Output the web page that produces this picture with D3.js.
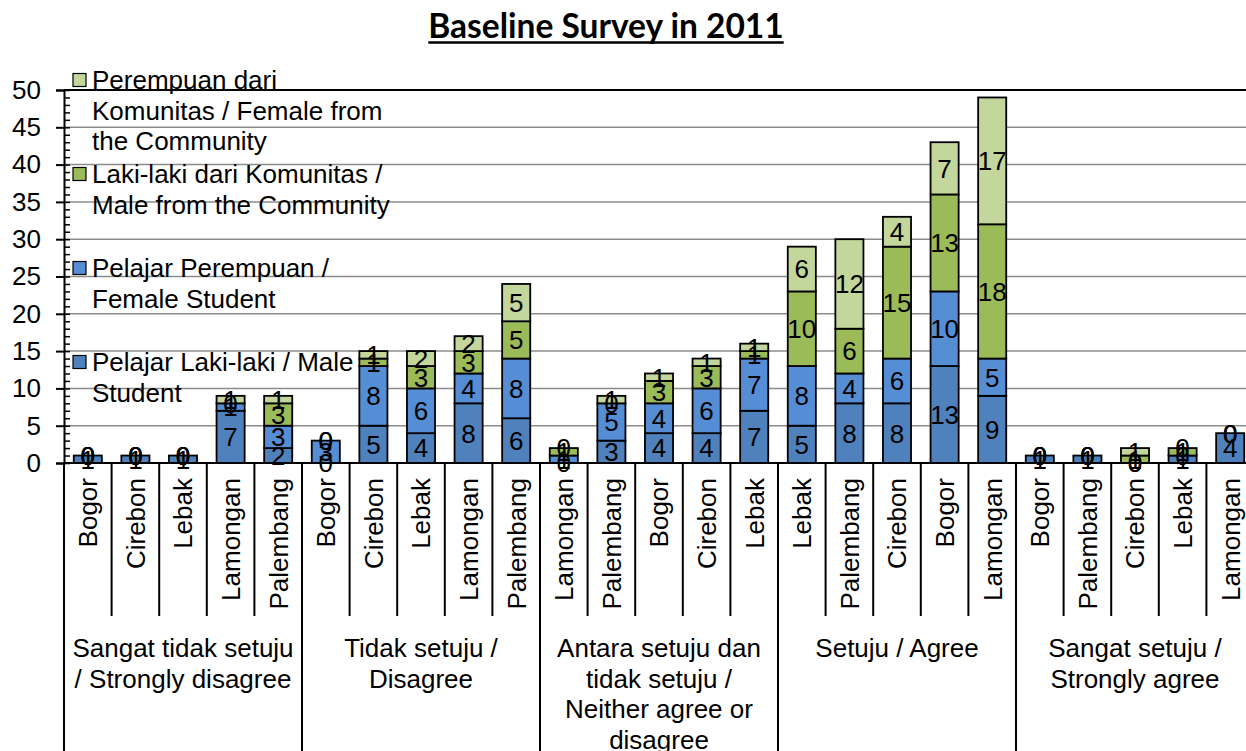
<!DOCTYPE html>
<meta charset="utf-8">
<html>
<head>
<script src="https://d3js.org/d3.v7.min.js"></script>
<style>
  body { margin: 0; background: #fff; }
  text { font-family: "Liberation Sans", Arial, sans-serif; fill: #000; }
</style>
</head>
<body>
<div id="chart"></div>
<script>
// city order along the x axis, five per answer group
const cities = [
  "Bogor", "Cirebon", "Lebak", "Lamongan", "Palembang",
  "Bogor", "Cirebon", "Lebak", "Lamongan", "Palembang",
  "Lamongan", "Palembang", "Bogor", "Cirebon", "Lebak",
  "Lebak", "Palembang", "Cirebon", "Bogor", "Lamongan",
  "Bogor", "Palembang", "Cirebon", "Lebak", "Lamongan"
];
const groupLabels = [
  ["Sangat tidak setuju", "/ Strongly disagree"],
  ["Tidak setuju /", "Disagree"],
  ["Antara setuju dan", "tidak setuju /", "Neither agree or", "disagree"],
  ["Setuju / Agree"],
  ["Sangat setuju /", "Strongly agree"]
];
const maleStudent     = [1, 1, 1, 7, 2,  0, 5, 4, 8, 6,  0, 3, 4, 4, 7,  5, 8, 8, 13, 9,  1, 1, 0, 1, 4];
const femaleStudent   = [0, 0, 0, 1, 3,  3, 8, 6, 4, 8,  1, 5, 4, 6, 7,  8, 4, 6, 10, 5,  0, 0, 0, 0, 0];
const maleCommunity   = [0, 0, 0, 0, 3,  0, 1, 3, 3, 5,  1, 0, 3, 3, 1,  10, 6, 15, 13, 18,  0, 0, 1, 1, 0];
const femaleCommunity = [0, 0, 0, 1, 1,  0, 1, 2, 2, 5,  0, 1, 1, 1, 1,  6, 12, 4, 7, 17,  0, 0, 1, 0, 0];

const seriesKeys = ["maleStudent", "femaleStudent", "maleCommunity", "femaleCommunity"];
const seriesColors = ["#4f81bd", "#558ed5", "#9bbb59", "#c3d69b"];
const legendLines = {
  femaleCommunity: ["Perempuan dari", "Komunitas / Female from", "the Community"],
  maleCommunity: ["Laki-laki dari Komunitas /", "Male from the Community"],
  femaleStudent: ["Pelajar Perempuan /", "Female Student"],
  maleStudent: ["Pelajar Laki-laki / Male", "Student"]
};
const yTicks = [0, 5, 10, 15, 20, 25, 30, 35, 40, 45, 50];

const W = 1246, H = 751;
const plotL = 64, plotR = 1254, plotT = 90, plotB = 463;
const fs = 26;

const rows = cities.map((c, i) => ({
  i: i,
  maleStudent: maleStudent[i],
  femaleStudent: femaleStudent[i],
  maleCommunity: maleCommunity[i],
  femaleCommunity: femaleCommunity[i]
}));

const svg = d3.select("#chart").append("svg")
  .attr("width", W).attr("height", H);

const x = d3.scaleBand()
  .domain(d3.range(cities.length))
  .range([plotL, plotR])
  .paddingInner(0.41)
  .paddingOuter(0.205);
const y = d3.scaleLinear().domain([0, 50]).range([plotB, plotT]);
const color = d3.scaleOrdinal().domain(seriesKeys).range(seriesColors);

// title
const title = svg.append("text")
  .attr("x", 606).attr("y", 38)
  .attr("text-anchor", "middle")
  .style("font-family", "Lato, 'Open Sans', sans-serif")
  .style("font-weight", "bold")
  .style("font-size", "33.5px")
  .text("Baseline Survey in 2011");
const tb = title.node().getBBox();
svg.append("line")
  .attr("x1", tb.x).attr("x2", tb.x + tb.width)
  .attr("y1", 42.5).attr("y2", 42.5)
  .attr("stroke", "#000").attr("stroke-width", 2.5);

// gridlines
svg.append("g")
  .selectAll("line")
  .data(yTicks.filter(t => t > 0 && t < 50))
  .join("line")
    .attr("x1", plotL).attr("x2", plotR)
    .attr("y1", d => y(d)).attr("y2", d => y(d))
    .attr("stroke", "#8c8c8c").attr("stroke-width", 1.5);
svg.append("line")
  .attr("x1", plotL).attr("x2", plotR)
  .attr("y1", y(50)).attr("y2", y(50))
  .attr("stroke", "#000").attr("stroke-width", 2);

// y axis, major ticks outside, minor inside
const yAxis = svg.append("g")
  .attr("transform", `translate(${plotL},0)`)
  .call(d3.axisLeft(y).tickValues(yTicks).tickSize(8).tickPadding(15));
yAxis.selectAll("text").style("font-size", fs + "px").style("font-family", "Liberation Sans, Arial, sans-serif");
yAxis.selectAll("line, path").attr("stroke", "#000").attr("stroke-width", 2);
const yMinor = svg.append("g")
  .attr("transform", `translate(${plotL},0)`)
  .call(d3.axisRight(y).tickValues(d3.range(0, 51, 1)).tickSize(6).tickFormat(""));
yMinor.select(".domain").remove();
yMinor.selectAll("line").attr("stroke", "#000").attr("stroke-width", 1.5);

// stacked bars
const stacked = d3.stack().keys(seriesKeys)(rows);
const layer = svg.append("g")
  .selectAll("g")
  .data(stacked)
  .join("g")
    .attr("fill", d => color(d.key));
layer.selectAll("rect")
  .data(d => d)
  .join("rect")
    .attr("x", d => x(d.data.i))
    .attr("y", d => y(d[1]))
    .attr("width", x.bandwidth())
    .attr("height", d => y(d[0]) - y(d[1]))
    .attr("stroke", "#000")
    .attr("stroke-width", 1.8);

// data labels, zeros included
const labelG = svg.append("g");
stacked.forEach(s => {
  labelG.selectAll(null)
    .data(s)
    .join("text")
      .attr("x", d => x(d.data.i) + x.bandwidth() / 2)
      .attr("y", d => y((d[0] + d[1]) / 2))
      .attr("dy", "0.36em")
      .attr("text-anchor", "middle")
      .style("font-size", fs + "px")
      .text(d => d.data[s.key]);
});

// x axis line and category dividers
svg.append("line")
  .attr("x1", plotL).attr("x2", plotR)
  .attr("y1", plotB).attr("y2", plotB)
  .attr("stroke", "#000").attr("stroke-width", 2);
svg.append("g")
  .selectAll("line")
  .data(d3.range(cities.length + 1))
  .join("line")
    .attr("x1", i => plotL + i * x.step())
    .attr("x2", i => plotL + i * x.step())
    .attr("y1", plotB)
    .attr("y2", i => i % 5 === 0 ? H : 616)
    .attr("stroke", "#000").attr("stroke-width", 2);

// city labels, rotated
svg.append("g")
  .selectAll("text")
  .data(cities)
  .join("text")
    .attr("transform", (d, i) => `translate(${x(i) + x.bandwidth() / 2},478) rotate(-90)`)
    .attr("dy", "0.36em")
    .attr("text-anchor", "end")
    .style("font-size", fs + "px")
    .text(d => d);

// group labels
groupLabels.forEach((lines, g) => {
  const cx = plotL + (g * 5 + 2.5) * x.step();
  svg.append("g").selectAll("text")
    .data(lines)
    .join("text")
      .attr("x", cx)
      .attr("y", (d, k) => 648 + k * 30.5)
      .attr("dy", "0.36em")
      .attr("text-anchor", "middle")
      .style("font-size", fs + "px")
      .text(d => d);
});

// legend, top entry first
const legendOrder = seriesKeys.slice().reverse();
const legend = svg.append("g")
  .selectAll("g")
  .data(legendOrder)
  .join("g")
    .attr("transform", (d, i) => `translate(73,${80 + i * 94})`);
legend.append("rect")
  .attr("x", 0).attr("y", -6.5)
  .attr("width", 13).attr("height", 13)
  .attr("fill", d => color(d))
  .attr("stroke", "#000").attr("stroke-width", 1.2);
legend.each(function(key) {
  d3.select(this).selectAll("text")
    .data(legendLines[key])
    .join("text")
      .attr("x", 19)
      .attr("y", (d, k) => k * 30.5)
      .attr("dy", "0.36em")
      .style("font-size", fs + "px")
      .text(d => d);
});
</script>
</body>
</html>
